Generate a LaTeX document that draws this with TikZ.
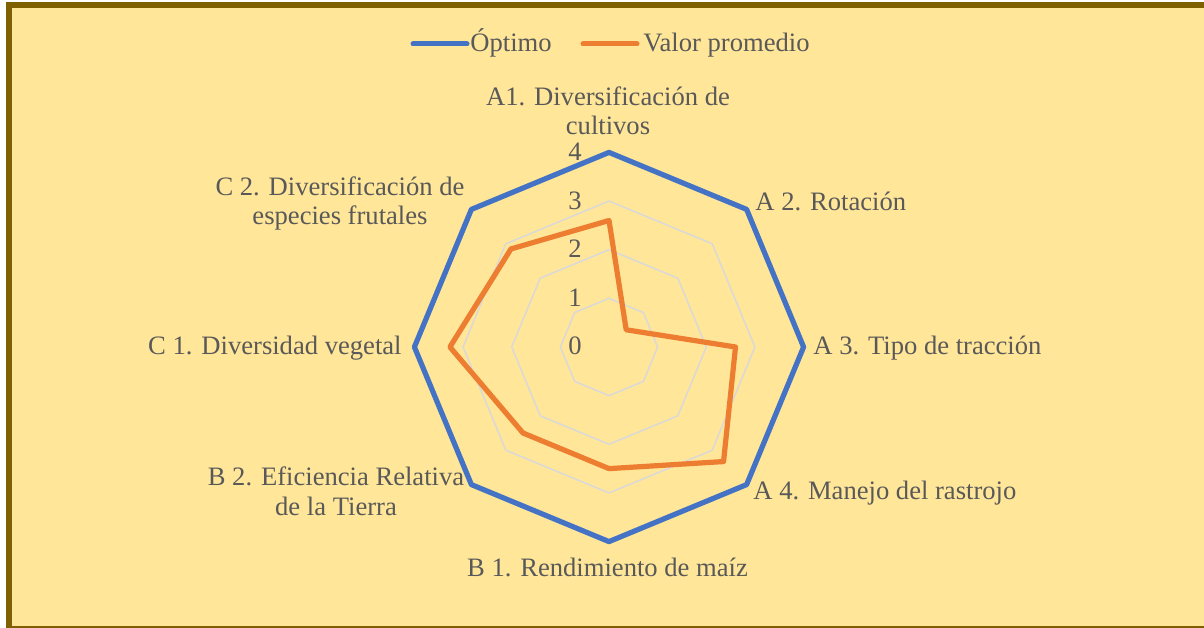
\documentclass[tikz,border=0pt]{standalone}
\usepackage{fontspec}
\setmainfont{Liberation Serif}
\usetikzlibrary{positioning}
\definecolor{chartframe}{HTML}{7F6000}
\definecolor{chartpaper}{HTML}{FFE699}
\definecolor{optblue}{HTML}{4472C4}
\definecolor{avgorange}{HTML}{ED7D31}
\definecolor{gridgray}{HTML}{D9D9D9}
\definecolor{ink}{HTML}{595959}
\newcommand\unitr{48.65}

\begin{document}
\begin{tikzpicture}[x=0.5pt, y=0.5pt,
  axis/.style = {text=ink, font=\fontsize{13.3}{14.8}\selectfont, inner sep=0pt, align=center},
  tick/.style = {text=ink, font=\fontsize{13.3}{14.8}\selectfont, inner sep=0pt, anchor=base},
  best/.style = {draw=optblue, line width=2.6pt, line join=round},
  mean/.style = {draw=avgorange, line width=2.6pt, line join=round},
  ring/.style = {draw=gridgray, line width=0.75pt, line join=round},
  key/.style = {line width=2.5pt, line cap=round}]
\useasboundingbox (0,0) rectangle (1204,627);
\fill[white] (0,0) rectangle (1204,627);
\draw[draw=chartframe, fill=chartpaper, line width=3pt] (9,-2) rectangle (1212,621.5);

% legend
\coordinate (k1a) at (413,583);
\coordinate (k1b) at (467,583);
\coordinate (k2a) at (583,583);
\coordinate (k2b) at (637,583);
\draw[key, optblue] (k1a) -- (k1b);
\draw[key, avgorange] (k2a) -- (k2b);
\node[axis, anchor=base west] (l1) at (470,575) {Óptimo};
\node[axis, anchor=base west] (l2) at (643,575) {Valor promedio};

\begin{scope}[shift={(609,280)}]
\foreach \r in {1,2,3}
  \draw[ring] (90:\r*\unitr) \foreach \a in {45,0,...,-225} {-- (\a:\r*\unitr)} -- cycle;

\foreach \a [count=\i] in {90,45,0,-45,-90,-135,180,135}
  \coordinate (b\i) at (\a:4*\unitr);
\foreach \a/\v [count=\i] in {90/2.6,45/0.5,0/2.6,-45/3.33,-90/2.5,-135/2.5,180/3.27,135/2.85}
  \coordinate (m\i) at (\a:\v*\unitr);

\draw[best] (b1) -- (b2) -- (b3) -- (b4) -- (b5) -- (b6) -- (b7) -- (b8) -- cycle;
\draw[mean] (m1) -- (m2) -- (m3) -- (m4) -- (m5) -- (m6) -- (m7) -- (m8) -- cycle;

\foreach \k in {0,...,4}
  \node[tick] (t\k) at (-34,\k*\unitr-8) {\k};
\end{scope}

% axis names
\node[axis, anchor=base] (a1) at (608,492) {A1. Diversificación de\\cultivos};
\node[axis, anchor=base west] (a2) at (755,416) {A 2. Rotación};
\node[axis, anchor=base west] (a3) at (813,272) {A 3. Tipo de tracción};
\node[axis, anchor=base west] (a4) at (753,128) {A 4. Manejo del rastrojo};
\node[axis, anchor=base] (b1l) at (607.5,51) {B 1. Rendimiento de maíz};
\node[axis, anchor=base] (b2l) at (336,112) {B 2. Eficiencia Relativa\\de la Tierra};
\node[axis, anchor=base east] (c1l) at (402,272) {C 1. Diversidad vegetal};
\node[axis, anchor=base] (c2l) at (340,402) {C 2. Diversificación de\\especies frutales};

\end{tikzpicture}
\end{document}
